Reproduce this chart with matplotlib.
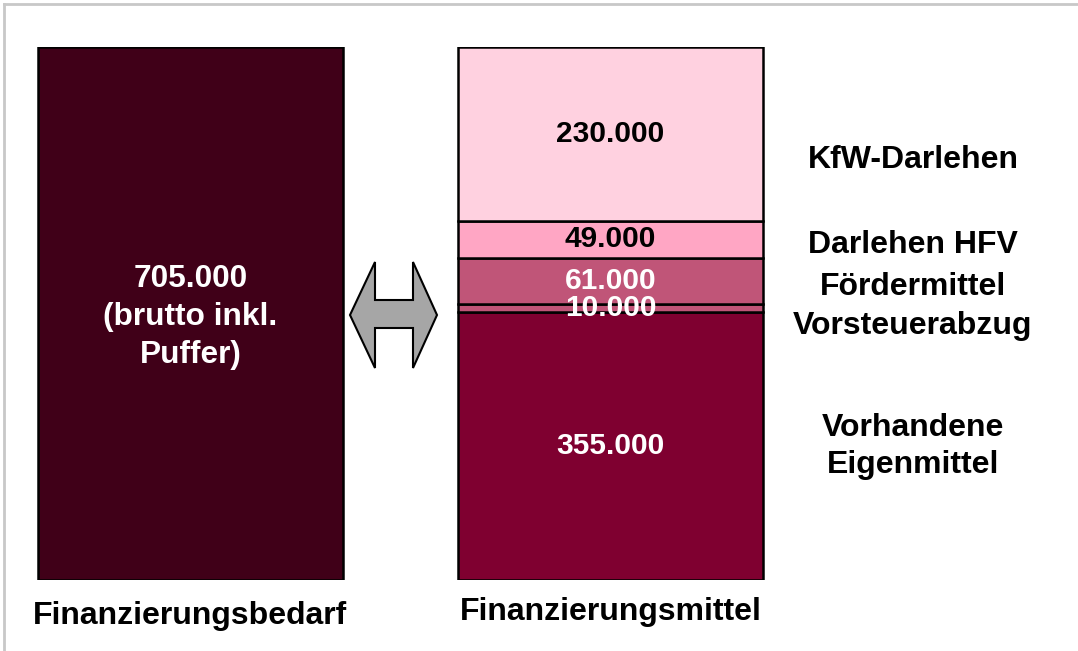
import matplotlib.pyplot as plt
from matplotlib.patches import Polygon
from matplotlib.lines import Line2D

plt.rcParams['font.family'] = ['Liberation Sans', 'DejaVu Sans']

# Werte in Tausend Euro
bedarf_wert = 705
bedarf_text = '705.000\n(brutto inkl.\nPuffer)'

mittel_namen = ['Vorhandene\nEigenmittel', 'Vorsteuerabzug', 'Fördermittel', 'Darlehen HFV', 'KfW-Darlehen']
mittel_werte = [355, 10, 61, 49, 230]
mittel_texte = ['355.000', '10.000', '61.000', '49.000', '230.000']
mittel_farben = ['#7F0030', '#C05578', '#C05578', '#FFA6C4', '#FFD1E0']
text_farben = ['white', 'white', 'white', 'black', 'black']
namen_y = [176, 336, 388, 443, 556]

kategorien = ['Finanzierungsbedarf', 'Finanzierungsmittel']

W, H = 1078, 651
fig = plt.figure(figsize=(W / 100, H / 100), dpi=100)
ax = fig.add_axes([0, (H - 580) / H, 1, 533 / H])
ax.set_xlim(-190.5 / 420, (W - 190.5) / 420)
ax.set_ylim(0, bedarf_wert)
ax.axis('off')

bw = 305 / 420
ax.bar(0, bedarf_wert, width=bw, color='#400018', edgecolor='black', linewidth=1.8)
ax.text(0, bedarf_wert / 2 - 5, bedarf_text, color='white', fontsize=22.8, fontweight='bold',
        ha='center', va='center', linespacing=1.35)

unten = 0
for w, t, c, tc in zip(mittel_werte, mittel_texte, mittel_farben, text_farben):
    ax.bar(1, w, bottom=unten, width=bw, color=c, edgecolor='black', linewidth=1.8)
    ax.text(1, unten + w / 2, t, color=tc, fontsize=21.5, fontweight='bold',
            ha='center', va='center')
    unten += w

for name, y in zip(mittel_namen, namen_y):
    ax.text((913 - 190.5) / 420, y, name, fontsize=23, fontweight='bold',
            ha='center', va='center', linespacing=1.3)

ax.text(0, -58, kategorien[0], fontsize=23, fontweight='bold', ha='center', va='baseline',
        clip_on=False)
ax.text(1, -53, kategorien[1], fontsize=23, fontweight='bold', ha='center', va='baseline',
        clip_on=False)

# Doppelpfeil zwischen den Balken (Pixelkoordinaten)
pfeil_px = [(350, 315), (375, 262), (375, 300), (413, 300), (413, 262), (437, 315),
            (413, 368), (413, 328), (375, 328), (375, 368)]
pfeil = Polygon([(x / W, 1 - y / H) for x, y in pfeil_px], closed=True,
                facecolor='#A6A6A6', edgecolor='black', linewidth=1.5,
                transform=fig.transFigure)
fig.patches.append(pfeil)

# grauer Rahmen
fig.add_artist(Line2D([4 / W, 1], [1 - 4 / H, 1 - 4 / H], color='#C8C8C8', linewidth=2,
                      transform=fig.transFigure))
fig.add_artist(Line2D([4 / W, 4 / W], [0, 1 - 4 / H], color='#C8C8C8', linewidth=2,
                      transform=fig.transFigure))

fig.savefig('out.png', dpi=100)
